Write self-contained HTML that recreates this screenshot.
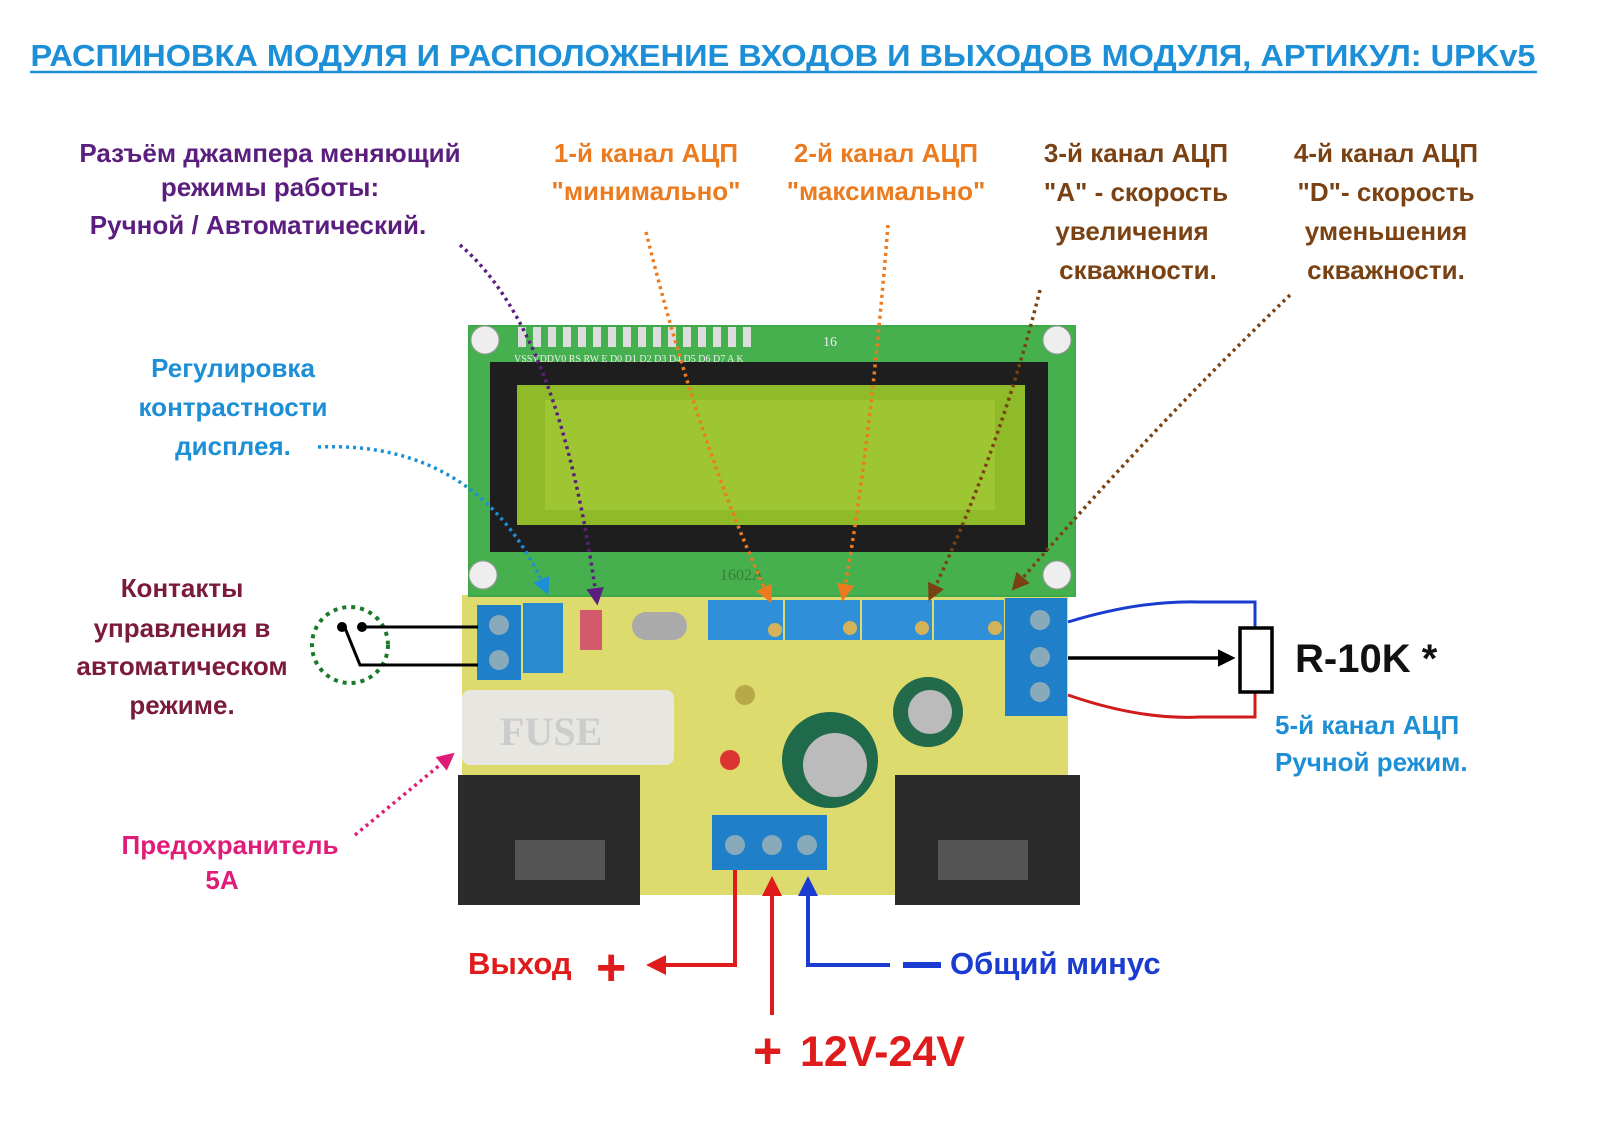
<!DOCTYPE html>
<html><head><meta charset="utf-8"><style>
html,body{margin:0;padding:0;background:#fff;}
svg{display:block;font-family:"Liberation Sans","DejaVu Sans",sans-serif;font-weight:bold;}
</style></head><body>
<svg width="1600" height="1123" viewBox="0 0 1600 1123" xmlns="http://www.w3.org/2000/svg">
<defs>
<marker id="ab" markerWidth="5" markerHeight="5" refX="4" refY="2.5" orient="auto" markerUnits="strokeWidth"><path d="M0,0 L5,2.5 L0,5 z" fill="context-stroke"/></marker>
<marker id="ar" viewBox="0 0 10 10" markerWidth="5" markerHeight="5" refX="8" refY="5" orient="auto"><path d="M0,0 L10,5 L0,10 z" fill="#e01b1b"/></marker>
<marker id="abl" viewBox="0 0 10 10" markerWidth="5" markerHeight="5" refX="8" refY="5" orient="auto"><path d="M0,0 L10,5 L0,10 z" fill="#1a3cd0"/></marker>
<marker id="ak" viewBox="0 0 10 10" markerWidth="5" markerHeight="5" refX="8" refY="5" orient="auto"><path d="M0,0 L10,5 L0,10 z" fill="#000"/></marker>
</defs>

<text x="783" y="66" text-anchor="middle" font-size="31" fill="#1c8fd6" textLength="1505" lengthAdjust="spacingAndGlyphs">РАСПИНОВКА МОДУЛЯ И РАСПОЛОЖЕНИЕ ВХОДОВ И ВЫХОДОВ МОДУЛЯ, АРТИКУЛ: UPKv5</text>
<line x1="30" y1="72" x2="1537" y2="72" stroke="#1c8fd6" stroke-width="2.5"/>

<rect x="462" y="595" width="606" height="300" fill="#dedb6e"/>
<rect x="458" y="775" width="182" height="130" fill="#2b2b2b"/>
<rect x="895" y="775" width="185" height="130" fill="#2b2b2b"/>
<rect x="515" y="840" width="90" height="40" fill="#555"/>
<rect x="938" y="840" width="90" height="40" fill="#555"/>

<rect x="468" y="325" width="608" height="272" fill="#3fa84a"/>
<rect x="470" y="327" width="604" height="268" fill="#46b04f"/>
<rect x="490" y="362" width="558" height="190" fill="#1e1e1e"/>
<rect x="517" y="385" width="508" height="140" fill="#8fba2a"/>
<rect x="545" y="400" width="450" height="110" fill="#9ec633"/>
<g fill="#eee" stroke="#999">
<circle cx="485" cy="340" r="14"/><circle cx="1057" cy="340" r="14"/>
<circle cx="483" cy="575" r="14"/><circle cx="1057" cy="575" r="14"/>
</g>
<g fill="#ddd">
<rect x="518" y="327" width="8" height="20"/><rect x="533" y="327" width="8" height="20"/><rect x="548" y="327" width="8" height="20"/><rect x="563" y="327" width="8" height="20"/><rect x="578" y="327" width="8" height="20"/><rect x="593" y="327" width="8" height="20"/><rect x="608" y="327" width="8" height="20"/><rect x="623" y="327" width="8" height="20"/><rect x="638" y="327" width="8" height="20"/><rect x="653" y="327" width="8" height="20"/><rect x="668" y="327" width="8" height="20"/><rect x="683" y="327" width="8" height="20"/><rect x="698" y="327" width="8" height="20"/><rect x="713" y="327" width="8" height="20"/><rect x="728" y="327" width="8" height="20"/><rect x="743" y="327" width="8" height="20"/>
</g>
<text x="514" y="362" font-size="10" font-weight="normal" fill="#eee" font-family="Liberation Serif,serif">VSSVDDV0 RS RW E D0 D1 D2 D3 D4 D5 D6 D7 A K</text>
<text x="823" y="346" font-size="14" font-weight="normal" fill="#eee" font-family="Liberation Serif,serif">16</text>
<text x="720" y="580" font-size="16" font-weight="normal" fill="#3b7b35" font-family="Liberation Serif,serif">1602A</text>

<rect x="477" y="605" width="44" height="75" fill="#1f7fc8"/>
<circle cx="499" cy="625" r="10" fill="#8ab"/><circle cx="499" cy="660" r="10" fill="#8ab"/>
<rect x="523" y="603" width="40" height="70" fill="#2a8ad0"/>
<rect x="580" y="610" width="22" height="40" fill="#d35a6a"/>
<rect x="632" y="612" width="55" height="28" rx="14" fill="#aaa"/>
<rect x="708" y="600" width="75" height="40" fill="#2f8fd8"/>
<rect x="785" y="600" width="75" height="40" fill="#2f8fd8"/>
<rect x="862" y="600" width="70" height="40" fill="#2f8fd8"/>
<rect x="934" y="600" width="70" height="40" fill="#2f8fd8"/>
<g fill="#d4b25a"><circle cx="775" cy="630" r="7"/><circle cx="850" cy="628" r="7"/><circle cx="922" cy="628" r="7"/><circle cx="995" cy="628" r="7"/></g>
<rect x="1005" y="598" width="62" height="118" fill="#1f7fc8"/>
<circle cx="1040" cy="620" r="10" fill="#8ab"/><circle cx="1040" cy="657" r="10" fill="#8ab"/><circle cx="1040" cy="692" r="10" fill="#8ab"/>
<rect x="712" y="815" width="115" height="55" fill="#1f7fc8"/>
<circle cx="735" cy="845" r="10" fill="#8ab"/><circle cx="772" cy="845" r="10" fill="#8ab"/><circle cx="807" cy="845" r="10" fill="#8ab"/>
<rect x="462" y="690" width="212" height="75" rx="8" fill="#e8e6e0"/>
<text x="500" y="745" font-size="40" fill="#ccc" font-family="Liberation Serif,serif">FUSE</text>
<circle cx="830" cy="760" r="48" fill="#1f6a4a"/><circle cx="835" cy="765" r="32" fill="#bbb"/>
<circle cx="928" cy="712" r="35" fill="#226a4a"/><circle cx="930" cy="712" r="22" fill="#bbb"/>
<circle cx="745" cy="695" r="10" fill="#b8a84a"/>
<circle cx="730" cy="760" r="10" fill="#d33"/>

<g font-size="26" text-anchor="middle">
<g fill="#5b1e7e"><text x="270" y="162">Разъём джампера меняющий</text><text x="270" y="196">режимы работы:</text><text x="258" y="234">Ручной /  Автоматический.</text></g>
<g fill="#ec7b1f"><text x="646" y="162">1-й канал АЦП</text><text x="646" y="200">"минимально"</text>
<text x="886" y="162">2-й канал АЦП</text><text x="886" y="200">"максимально"</text></g>
<g fill="#7a4213"><text x="1136" y="162">3-й канал АЦП</text><text x="1136" y="201">"А" - скорость</text><text x="1132" y="240">увеличения</text><text x="1138" y="279">скважности.</text>
<text x="1386" y="162">4-й канал АЦП</text><text x="1386" y="201">"D"- скорость</text><text x="1386" y="240">уменьшения</text><text x="1386" y="279">скважности.</text></g>
<g fill="#1c8fd6"><text x="233" y="377">Регулировка</text><text x="233" y="416">контрастности</text><text x="233" y="455">дисплея.</text></g>
<g fill="#7a1a3c"><text x="182" y="597">Контакты</text><text x="182" y="637">управления в</text><text x="182" y="675">автоматическом</text><text x="182" y="714">режиме.</text></g>
<g fill="#e01c78"><text x="230" y="854">Предохранитель</text><text x="222" y="889">5А</text></g>
</g>
<text x="1295" y="672" font-size="40" fill="#111">R-10K *</text>
<g font-size="26" fill="#1c8fd6"><text x="1275" y="734">5-й канал АЦП</text><text x="1275" y="771">Ручной режим.</text></g>
<text x="468" y="974" font-size="31" fill="#e01b1b">Выход</text>
<text x="596" y="985" font-size="52" fill="#e01b1b">+</text>
<rect x="903" y="962" width="38" height="6" fill="#1a3cd0"/>
<text x="950" y="974" font-size="31" fill="#1a3cd0">Общий минус</text>
<text x="753" y="1068" font-size="50" fill="#e01b1b">+</text>
<text x="800" y="1066" font-size="43" fill="#e01b1b">12V-24V</text>

<g fill="none" stroke-width="3.5" stroke-dasharray="3,4">
<path d="M460,245 Q560,330 597,602" stroke="#5b1e7e" marker-end="url(#ab)"/>
<path d="M318,447 Q480,440 547,592" stroke="#1c8fd6" marker-end="url(#ab)"/>
<path d="M646,232 Q700,450 770,600" stroke="#ec7b1f" marker-end="url(#ab)"/>
<path d="M888,225 Q870,450 843,598" stroke="#ec7b1f" marker-end="url(#ab)"/>
<path d="M1040,290 Q1000,450 930,598" stroke="#7a4213" marker-end="url(#ab)"/>
<path d="M1290,295 Q1150,430 1014,588" stroke="#7a4213" marker-end="url(#ab)"/>
<path d="M355,835 L452,755" stroke="#e01c78" marker-end="url(#ab)"/>
</g>
<circle cx="350" cy="645" r="38" fill="none" stroke="#1b7a2a" stroke-width="4" stroke-dasharray="4,5"/>

<g stroke="#000" stroke-width="3" fill="none">
<path d="M362,627 L478,627"/><path d="M385,665 L478,665"/><path d="M345,628 L360,665 L385,665"/>
</g>
<circle cx="342" cy="627" r="5" fill="#000"/><circle cx="362" cy="627" r="5" fill="#000"/>
<path d="M1068,622 Q1140,600 1200,602 L1255,602 L1255,627" stroke="#1a3cd0" stroke-width="3" fill="none"/>
<path d="M1068,695 Q1140,720 1200,717 L1255,717 L1255,692" stroke="#d01b1b" stroke-width="3" fill="none"/>
<line x1="1068" y1="658" x2="1232" y2="658" stroke="#000" stroke-width="3.5" marker-end="url(#ak)"/>
<rect x="1240" y="628" width="32" height="64" fill="#fff" stroke="#000" stroke-width="3.5"/>
<path d="M735,870 L735,965 L650,965" stroke="#e01b1b" stroke-width="4" fill="none" marker-end="url(#ar)"/>
<line x1="772" y1="1015" x2="772" y2="880" stroke="#e01b1b" stroke-width="4" marker-end="url(#ar)"/>
<path d="M890,965 L808,965 L808,880" stroke="#1a3cd0" stroke-width="4" fill="none" marker-end="url(#abl)"/>
</svg>
</body></html>
